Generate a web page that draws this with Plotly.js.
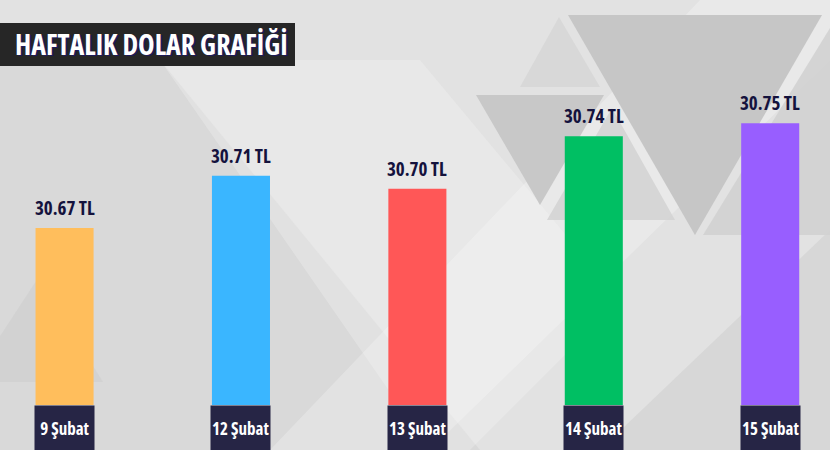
<!DOCTYPE html>
<html>
<head>
<meta charset="utf-8">
<script src="https://cdn.plot.ly/plotly-3.0.1.min.js"></script>
<style>
html,body{margin:0;padding:0;background:#e2e2e2;}
#chart{width:830px;height:450px;}
#chart text{font-stretch:75%;}
</style>
</head>
<body>
<div id="chart"></div>
<script>
// ---- data ----
const categories = ["9 Şubat", "12 Şubat", "13 Şubat", "14 Şubat", "15 Şubat"];
const values = [30.67, 30.71, 30.70, 30.74, 30.75];
const barColors = ["#FFBE5C", "#3AB6FF", "#FF5757", "#00BF63", "#985EFF"];
const chartTitle = "HAFTALIK DOLAR GRAFİĞİ";
const valueSuffix = " TL";

// ---- layout helpers ----
const W = 830, H = 450, B = 45, PH = H - B;
const COND = "'Open Sans', 'Roboto Condensed', sans-serif";
function pt(x, y) { return (x / W).toFixed(4) + "," + (1 - y / PH).toFixed(4); }
function tri(a, b, c, color) {
  return {type: "path", xref: "paper", yref: "paper", layer: "below", line: {width: 0},
          fillcolor: color, path: "M" + pt(a[0], a[1]) + " L" + pt(b[0], b[1]) + " L" + pt(c[0], c[1]) + " Z"};
}
function poly(pts, color) {
  return {type: "path", xref: "paper", yref: "paper", layer: "below", line: {width: 0},
          fillcolor: color, path: "M" + pts.map(p => pt(p[0], p[1])).join(" L") + " Z"};
}

const shapes = [
  // soft background light/dark zones
  poly([[0,60],[160,60],[480,450],[0,450]], "rgba(200,200,200,0.35)"),
  poly([[270,450],[700,0],[830,0],[830,60],[430,450]], "rgba(255,255,255,0.25)"),
  poly([[600,450],[830,230],[830,450]], "rgba(190,190,190,0.30)"),
  poly([[160,60],[420,60],[620,300],[470,450],[430,450]], "rgba(250,250,250,0.25)"),
  // top-right triangles
  tri([520,87],[600,87],[559,17], "rgba(215,215,215,0.9)"),
  tri([547,220],[675,220],[612,108], "rgba(212,212,212,0.9)"),
  tri([703,235],[830,235],[830,28], "rgba(210,210,210,0.9)"),
  tri([568,15],[822,15],[695,235], "rgba(196,196,196,0.95)"),
  tri([476,95],[604,95],[540,205], "rgba(198,198,198,0.95)"),
  // faint left triangle
  tri([-30,382],[103,382],[38,278], "rgba(205,205,205,0.6)"),
  // title box
  {type: "rect", xref: "paper", yref: "paper", layer: "above", line: {width: 0}, fillcolor: "#262626",
   x0: 0, x1: 295 / W, y0: 1 - 66 / PH, y1: 1 - 23 / PH}
];

// dark boxes under each bar
const boxAnnotations = categories.map(c => ({
  x: c, xref: "x", y: 0, yref: "paper", yanchor: "top", xanchor: "center",
  text: "&nbsp;", showarrow: false, bgcolor: "#262545", width: 59, height: 45, borderpad: 0,
  font: {family: COND, size: 12, color: "#262545"}
}));
// date labels inside the boxes
const labelAnnotations = categories.map(c => ({
  x: c, xref: "x", y: 0, yref: "paper", yanchor: "top", xanchor: "center",
  text: c, showarrow: false, yshift: -10,
  font: {family: COND, size: 17, color: "#ffffff", weight: 700}
}));
// value labels above each bar
const valueAnnotations = categories.map((c, i) => ({
  x: c, xref: "x", y: values[i], yref: "y", yanchor: "bottom", xanchor: "center",
  text: values[i].toFixed(2) + valueSuffix, showarrow: false, yshift: 5,
  font: {family: COND, size: 19, color: "#14123d", weight: 700}
}));

const trace = {
  type: "bar", x: categories, y: values,
  marker: {color: barColors, line: {width: 0}},
  hoverinfo: "skip"
};

const layout = {
  width: W, height: H,
  margin: {l: 0, r: 0, t: 0, b: B, pad: 0},
  paper_bgcolor: "#e2e2e2", plot_bgcolor: "rgba(0,0,0,0)",
  showlegend: false,
  bargap: 0.671,
  title: {text: chartTitle, x: 15 / W, xanchor: "left", xref: "paper", y: 1 - 45 / H, yanchor: "middle",
          font: {family: COND, size: 28, color: "#ffffff", weight: 700, shadow: "2px 1px 0px #1d1a5a"}},
  xaxis: {type: "category", range: [-0.366, 4.339], showticklabels: false, showgrid: false,
          zeroline: false, showline: false, ticks: "", fixedrange: true},
  yaxis: {range: [30.535, 30.844], showticklabels: false, showgrid: false, zeroline: false,
          showline: false, ticks: "", fixedrange: true},
  shapes: shapes,
  annotations: boxAnnotations.concat(labelAnnotations, valueAnnotations)
};

Plotly.newPlot("chart", [trace], layout, {displayModeBar: false, staticPlot: true});
</script>
</body>
</html>
